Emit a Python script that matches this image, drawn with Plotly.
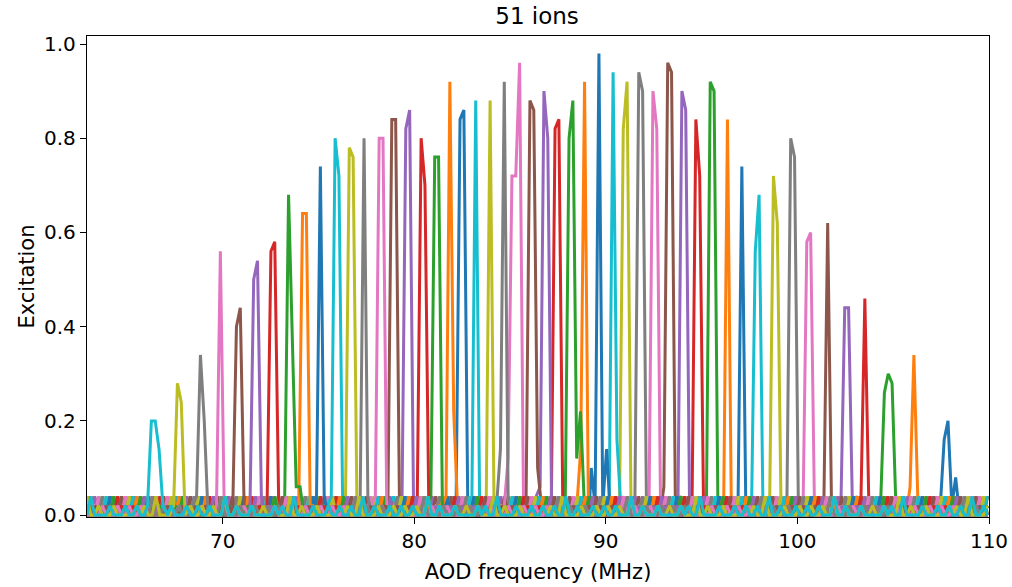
import numpy as np
import plotly.graph_objects as go

# ---- data ----
freq_start = 62.92          # MHz, first scan point
freq_step = 0.2             # MHz
n_points = 236

# baseline excitation readings (quantised to 0.02), reused per ion with an offset
noise_pattern = [0, 0.02, 0, 0, 0.04, 0, 0, 0.02, 0, 0, 0, 0.02, 0, 0, 0.02, 0,
                 0, 0.02, 0, 0, 0, 0.04, 0, 0, 0.02, 0, 0, 0, 0.02, 0, 0, 0,
                 0, 0, 0.02, 0, 0.02, 0, 0, 0.04, 0, 0, 0, 0, 0.02, 0, 0, 0,
                 0.02, 0, 0, 0.02, 0]

# first frequency of each ion's resonance profile (ion 0 = highest frequency)
peak_starts = [107.46, 105.68, 104.34, 103.12, 102.07, 101.18, 100.29, 99.25, 98.35, 97.60,
               96.70, 95.95, 95.05, 94.30, 93.57, 92.83, 92.06, 91.32, 90.71, 89.98,
               89.24, 88.49, 87.88, 87.15, 86.37, 85.64, 84.70, 84.30, 83.56, 82.81,
               82.19, 81.46, 80.67, 79.96, 79.36, 78.43, 77.77, 76.98, 76.21, 75.47,
               74.70, 73.77, 73.04, 72.32, 71.42, 70.52, 69.48, 68.44, 67.24, 66.08]

# excitation values across each resonance (consecutive scan points)
peak_profiles = [
    [0.02, 0.16, 0.20, 0.02, 0.08, 0],
    [0, 0.06, 0.34, 0.04, 0],
    [0.02, 0.26, 0.30, 0.28, 0.02],
    [0, 0.04, 0.46, 0.04, 0],
    [0, 0.02, 0.44, 0.44, 0.02],
    [0.02, 0.02, 0.62, 0.02, 0],
    [0, 0.58, 0.60, 0.02, 0],
    [0, 0.02, 0.80, 0.76, 0.02],
    [0, 0.02, 0.72, 0.62, 0],
    [0, 0.56, 0.68, 0.02, 0],
    [0, 0.02, 0.74, 0.04, 0],
    [0, 0.02, 0.84, 0.02, 0],
    [0, 0.02, 0.92, 0.90, 0.02],
    [0, 0.02, 0.84, 0.72, 0.02],
    [0, 0.04, 0.90, 0.86, 0.02],
    [0, 0.06, 0.96, 0.94, 0.02],
    [0.02, 0.04, 0.90, 0.82, 0],
    [0, 0.04, 0.94, 0.90, 0.02],
    [0, 0.82, 0.92, 0.04, 0],
    [0, 0.04, 0.94, 0.16, 0.02],
    [0.10, 0.02, 0.98, 0.02, 0.14, 0],
    [0.02, 0.14, 0.92, 0.02, 0],
    [0.02, 0.80, 0.88, 0.12, 0.22, 0.02],
    [0, 0.82, 0.84, 0.04, 0.02],
    [0.04, 0.06, 0.90, 0.80, 0.02],
    [0.02, 0.04, 0.88, 0.86, 0.10, 0.02],
    [0.02, 0.12, 0.72, 0.72, 0.96, 0.04, 0],
    [0.02, 0.14, 0.92, 0.04, 0],
    [0.02, 0.04, 0.88, 0.04, 0.02],
    [0, 0.04, 0.88, 0.04, 0],
    [0.04, 0.84, 0.86, 0.04, 0],
    [0.02, 0.04, 0.92, 0.22, 0.02],
    [0.02, 0.04, 0.76, 0.76, 0.02],
    [0, 0.04, 0.80, 0.70, 0.02],
    [0.02, 0.82, 0.86, 0.04, 0],
    [0, 0.04, 0.84, 0.84, 0.02],
    [0.02, 0.04, 0.80, 0.80, 0],
    [0.02, 0.04, 0.80, 0.04, 0],
    [0, 0.02, 0.78, 0.76, 0.02],
    [0.02, 0.04, 0.80, 0.72, 0],
    [0, 0.04, 0.74, 0.04, 0],
    [0, 0.02, 0.64, 0.64, 0.02],
    [0.02, 0.04, 0.68, 0.36, 0.06, 0.06, 0],
    [0.02, 0.56, 0.58, 0.04, 0],
    [0, 0.50, 0.54, 0.04, 0],
    [0, 0.40, 0.44, 0.02, 0],
    [0, 0.02, 0.56, 0.02, 0],
    [0.02, 0.04, 0.34, 0.20, 0],
    [0, 0.02, 0.28, 0.24, 0],
    [0.02, 0.20, 0.20, 0.14, 0.02],
]

x_ticks = [70, 80, 90, 100, 110]
y_ticks = [0.0, 0.2, 0.4, 0.6, 0.8, 1.0]

tab10 = ['#1f77b4', '#ff7f0e', '#2ca02c', '#d62728', '#9467bd',
         '#8c564b', '#e377c2', '#7f7f7f', '#bcbd22', '#17becf']

# ---- figure ----
fig = go.Figure()
base_x = freq_start + freq_step * np.arange(n_points)
L = len(noise_pattern)
for i, (start, prof) in enumerate(zip(peak_starts, peak_profiles)):
    base_y = np.array([noise_pattern[(k + 17 * i) % L] for k in range(n_points)])
    px = start + freq_step * np.arange(len(prof))
    mask = (base_x < px[0] - 0.1) | (base_x > px[-1] + 0.1)
    xs = np.concatenate([base_x[mask], px])
    ys = np.concatenate([base_y[mask], np.array(prof, dtype=float)])
    order = np.argsort(xs)
    fig.add_trace(go.Scatter(
        x=xs[order], y=ys[order], mode='lines',
        line=dict(color=tab10[i % 10], width=3),
        showlegend=False, hoverinfo='skip'))

font_family = 'DejaVu Sans'
axis_common = dict(showline=True, linecolor='black', linewidth=1.3, mirror=True,
                   ticks='outside', ticklen=6, tickwidth=1.3, tickcolor='black',
                   showgrid=False, zeroline=False, automargin=False,
                   tickfont=dict(family=font_family, size=20, color='black'))

fig.update_layout(
    width=1012, height=587,
    margin=dict(l=87, r=23, t=36, b=70, autoexpand=False),
    paper_bgcolor='white', plot_bgcolor='white',
    title=dict(text='51 ions', x=0.5307, xanchor='center', y=0.972, yanchor='middle',
               font=dict(family=font_family, size=23, color='black')),
    xaxis=dict(range=[62.92, 110], tickvals=x_ticks, ticktext=[str(v) for v in x_ticks],
               title=dict(text='AOD frequency (MHz)', standoff=12,
                          font=dict(family=font_family, size=21, color='black')),
               **axis_common),
    yaxis=dict(range=[-0.004, 1.017], tickvals=y_ticks, ticktext=[f'{v:.1f}' for v in y_ticks],
               title=dict(text='Excitation', standoff=3,
                          font=dict(family=font_family, size=21, color='black')),
               **axis_common),
)

fig.write_html('out.html')
